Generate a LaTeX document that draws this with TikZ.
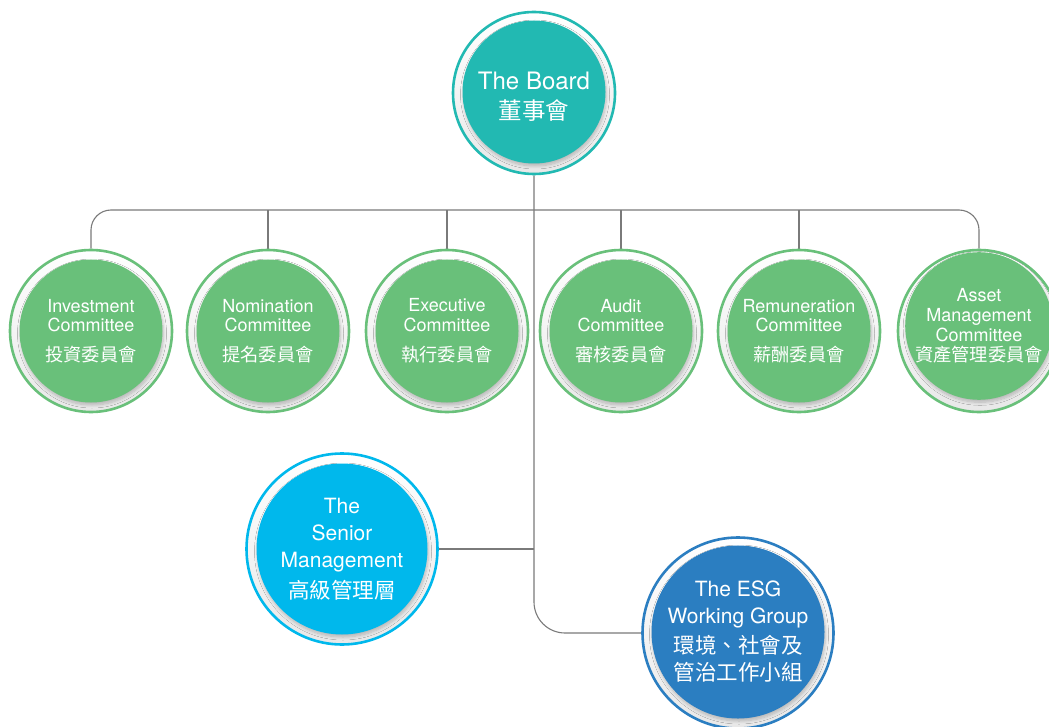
\documentclass[tikz,border=0pt]{standalone}
\usepackage{fontspec}
\setmainfont{TeX Gyre Heros}
\newfontfamily\cjk{Noto Sans CJK TC}
\usetikzlibrary{shadows.blur,backgrounds}
\definecolor{teal1}{HTML}{22B9B2}
\definecolor{green1}{HTML}{69C07A}
\definecolor{sky1}{HTML}{00B8EC}
\definecolor{esg1}{HTML}{2B7EC1}
\definecolor{conncol}{HTML}{7A7A7A}
\tikzset{
  ringbox/.style 2 args={circle, draw=#1, line width=2.6pt, minimum size=#2, inner sep=0pt,
    top color=white, bottom color=black!9},
  core/.style 2 args={circle, fill=#1, minimum size=#2, inner sep=0pt, text=white, align=center,
    blur shadow={shadow xshift=1pt, shadow yshift=-2.5pt, shadow blur radius=3pt, shadow blur steps=8, shadow opacity=22}},
  conn/.style={draw=conncol, line width=1.1pt},
  comtext/.style={font=\fontsize{18}{19.8}\selectfont},
}
\newcommand{\cz}[1]{{\cjk\fontsize{18.2}{20}\selectfont #1}}
\begin{document}
\begin{tikzpicture}[x=1pt,y=-1pt]
\useasboundingbox (0,0) rectangle (1049,727);
\clip (0,0) rectangle (1049,727);
% board
\node[ringbox={teal1}{162pt}] (board) at (534,93) {};
\node[core={teal1}{143pt}, font=\fontsize{24}{27}\selectfont] (boardc) at (534,92) {};
\node[text=white, align=center, font=\fontsize{24}{27}\selectfont] (boardt) at (534,97)
  {The Board\\[3pt]\cjk\fontsize{23.5}{25}\selectfont 董事會};
% committees
\foreach \n/\x in {c1/91, c2/268, c3/447, c4/621, c5/799, c6/979}{
  \node[ringbox={green1}{162pt}] (\n) at (\x,331) {};
}
\node[core={green1}{143pt}, comtext] (c1c) at (91,331) {Investment\\Committee\\[10pt]\cz{投資委員會}};
\node[core={green1}{143pt}, comtext] (c2c) at (268,331) {Nomination\\Committee\\[10pt]\cz{提名委員會}};
\node[core={green1}{143pt}, comtext] (c3c) at (447,331) {Executive\\Committee\\[10pt]\cz{執行委員會}};
\node[core={green1}{143pt}, comtext] (c4c) at (621,331) {Audit\\Committee\\[10pt]\cz{審核委員會}};
\node[core={green1}{143pt}, comtext] (c5c) at (799,331) {Remuneration\\Committee\\[10pt]\cz{薪酬委員會}};
\node[core={green1}{143pt}, comtext] (c6c) at (979,326) {Asset\\Management\\Committee\\[1pt]\cz{資產管理委員會}};
% senior management
\node[ringbox={sky1}{191pt}] (senior) at (342,549) {};
\node[core={sky1}{171pt}, font=\fontsize{21}{27}\selectfont] (seniorc) at (342,549)
  {The\\Senior\\Management\\[4pt]\cjk\fontsize{21.5}{27}\selectfont 高級管理層};
% ESG
\node[ringbox={esg1}{191pt}] (esg) at (738,633) {};
\node[core={esg1}{171pt}, font=\fontsize{21}{27}\selectfont] (esgc) at (738,632)
  {The ESG\\Working Group\\[3pt]\cjk\fontsize{21.5}{28.5}\selectfont 環境、社會及\\\cjk\fontsize{21.5}{28.5}\selectfont 管治工作小組};
% connectors
\begin{pgfonlayer}{background}
\coordinate (bar) at (534,210);
\draw[conn, rounded corners=20pt] (c1.north) -- (c1.north |- bar) -- (c6.north |- bar) -- (c6.north);
\foreach \n in {c2,c3,c4,c5}{
  \draw[conn] (\n.north |- bar) -- (\n.north);
}
\draw[conn, rounded corners=31pt] (board.south) |- (esg.west);
\draw[conn] (senior.east) -- (senior.east -| board.south);
\end{pgfonlayer}
\end{tikzpicture}
\end{document}
